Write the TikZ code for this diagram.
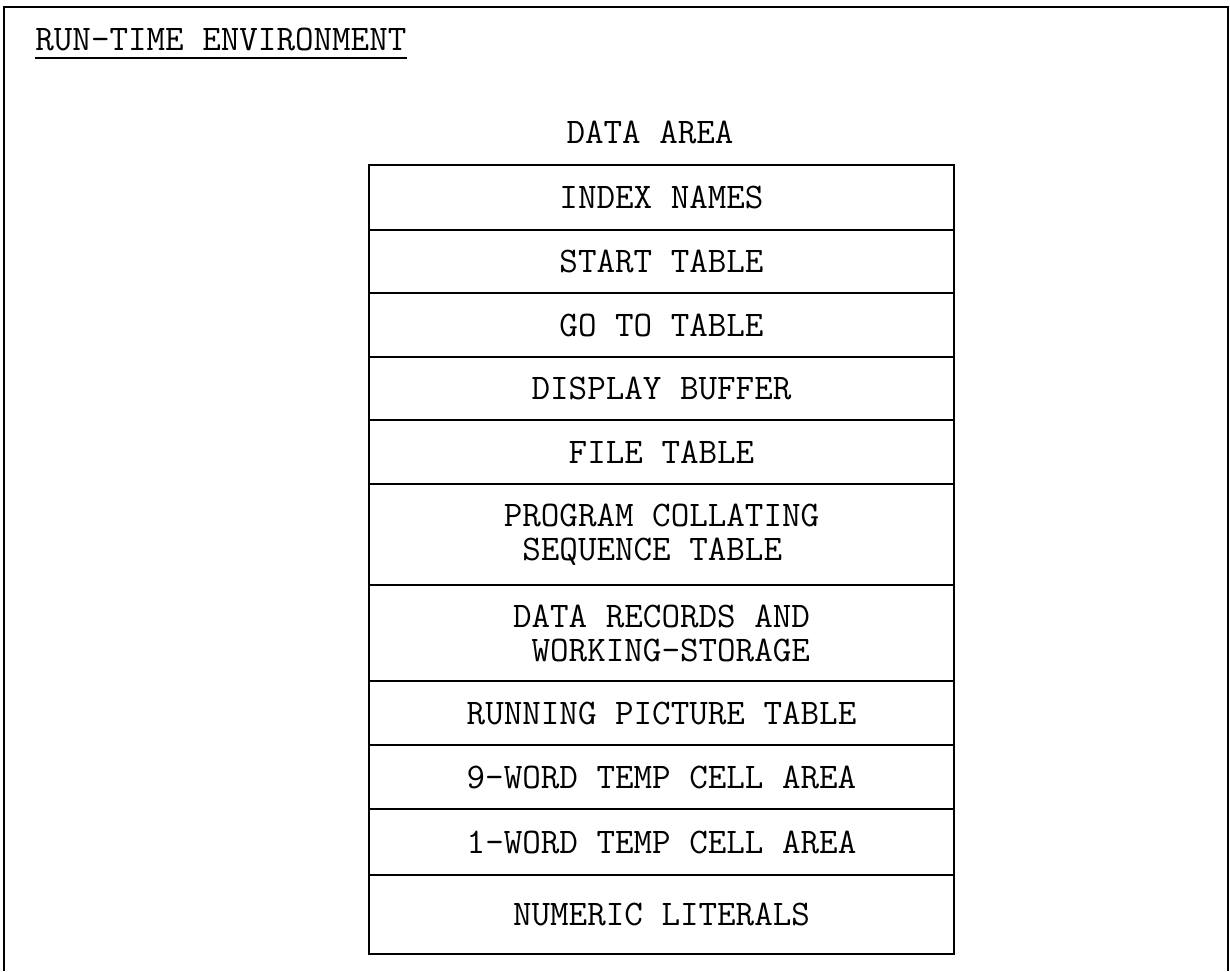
\documentclass[tikz,border=0pt]{standalone}
\usepackage{tikz}
\usetikzlibrary{positioning}
\tikzset{
  areabox/.style={draw, line width=1.3pt, minimum width=11.7cm, outer sep=0pt,
                  inner sep=0pt, align=left},
  frame/.style={line width=1.3pt}
}

\begin{document}
\begin{tikzpicture}[font=\fontsize{20.5}{19.3}\selectfont\ttfamily]
  \useasboundingbox (0,0) rectangle (24.6,-19.42);
  % page frame, open at the bottom
  \draw[frame] (0.08,-19.42) -- (0.08,-0.14) -- (24.56,-0.14) -- (24.56,-19.42);
  % heading and its rule
  \node[anchor=base west, inner sep=0pt] (title) at (0.70,-1.00) {RUN-TIME ENVIRONMENT};
  \draw[line width=1pt] ([yshift=-0.16cm]title.base west) -- ([yshift=-0.16cm]title.base east);
  % stacked data area, top to bottom
  \coordinate (top) at (13.23,-3.30);
  \foreach \n/\h/\l [remember=\n as \p (initially top)] in {
      idx/1.30/{INDEX NAMES},
      start/1.26/{START TABLE},
      goto/1.28/{GO TO TABLE},
      disp/1.26/{DISPLAY BUFFER},
      file/1.28/{FILE TABLE},
      pcs/2.02/{PROGRAM COLLATING\\\hphantom{X}SEQUENCE TABLE},
      rec/1.92/{DATA RECORDS AND\\\hphantom{X}WORKING-STORAGE},
      pic/1.28/{RUNNING PICTURE TABLE},
      nine/1.28/{9-WORD TEMP CELL AREA},
      one/1.32/{1-WORD TEMP CELL AREA},
      lit/1.58/{NUMERIC LITERALS}} {
      \node[areabox, minimum height=\h cm, below=0pt of \p] (\n) {\l};
  }
  \node[above=0.44cm of idx.north, anchor=base, xshift=-0.23cm] (area) {DATA AREA};
\end{tikzpicture}
\end{document}
